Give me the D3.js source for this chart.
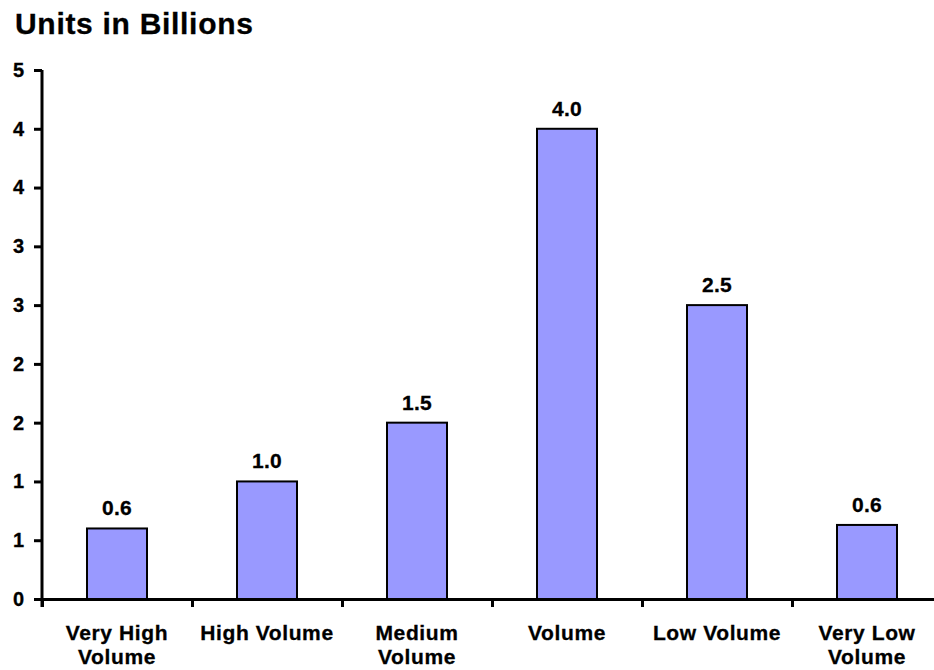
<!DOCTYPE html>
<html>
<head>
<meta charset="utf-8">
<script src="https://cdn.jsdelivr.net/npm/d3@7"></script>
<style>
  html, body { margin: 0; padding: 0; background: #fff; }
  svg { display: block; }
  text { font-family: "Liberation Sans", Arial, sans-serif; font-weight: bold; fill: #000; stroke: #000; stroke-width: 0.3px; }
</style>
</head>
<body>
<svg id="chart" width="934" height="670"></svg>
<script>
const categories = [["Very High", "Volume"], ["High Volume"], ["Medium", "Volume"], ["Volume"], ["Low Volume"], ["Very Low", "Volume"]];
const values = [0.6, 1.0, 1.5, 4.0, 2.5, 0.63];
const valueLabels = ["0.6", "1.0", "1.5", "4.0", "2.5", "0.6"];
const yTickValues = [0, 0.5, 1, 1.5, 2, 2.5, 3, 3.5, 4, 4.5];
const yTickLabels = ["0", "1", "1", "2", "2", "3", "3", "4", "4", "5"];
const title = "Units in Billions";

(function () {
const svg = d3.select("#chart");
const mLeft = 42, mRight = 942, mTop = 70, mBottom = 599;

const x = d3.scaleBand().domain(d3.range(categories.length)).range([mLeft, mRight]).paddingInner(0).paddingOuter(0);
const y = d3.scaleLinear().domain([0, 4.5]).range([mBottom, mTop]);
const barW = x.bandwidth() * 0.4;

svg.append("text").attr("x", 15).attr("y", 34).attr("font-size", 30)
  .attr("letter-spacing", 0.7).text(title);

// bars
svg.append("g").selectAll("rect").data(values).join("rect")
  .attr("x", (d, i) => x(i) + (x.bandwidth() - barW) / 2)
  .attr("y", d => y(d))
  .attr("width", barW)
  .attr("height", d => y(0) - y(d))
  .attr("fill", "#9999FF")
  .attr("stroke", "#000")
  .attr("stroke-width", 2);

// value labels
svg.append("g").selectAll("text").data(values).join("text")
  .attr("x", (d, i) => x(i) + x.bandwidth() / 2)
  .attr("y", d => y(d) - 13)
  .attr("text-anchor", "middle")
  .attr("font-size", 21)
  .attr("letter-spacing", 0.3)
  .text((d, i) => valueLabels[i]);

// y axis
const yAxis = d3.axisLeft(y).tickValues(yTickValues).tickFormat((d, i) => yTickLabels[i]).tickSize(8).tickPadding(10);
const gy = svg.append("g").attr("transform", `translate(${mLeft},0)`).call(yAxis);
gy.select(".domain").attr("stroke", "#000").attr("stroke-width", 3).attr("d", `M0,${mTop}V${mBottom + 8}`);
gy.selectAll(".tick line").attr("stroke", "#000").attr("stroke-width", 3);
gy.selectAll(".tick text").attr("font-size", 20).attr("font-family", "Liberation Sans, Arial, sans-serif")
  .attr("font-weight", "bold").attr("fill", "#000");

// x axis
const boundaries = d3.range(categories.length).map(i => x(i));
const xAxisScale = d3.scaleLinear().domain([mLeft, mRight]).range([mLeft, mRight]);
const xAxis = d3.axisBottom(xAxisScale).tickValues(boundaries).tickFormat("").tickSize(8).tickSizeOuter(0);
const gx = svg.append("g").attr("transform", `translate(0,${mBottom})`).call(xAxis);
gx.select(".domain").attr("stroke", "#000").attr("stroke-width", 3);
gx.selectAll(".tick line").attr("stroke", "#000").attr("stroke-width", 3);

// category labels
const cl = svg.append("g").selectAll("text").data(categories).join("text")
  .attr("x", (d, i) => x(i) + x.bandwidth() / 2)
  .attr("y", 640)
  .attr("text-anchor", "middle")
  .attr("font-size", 21)
  .attr("letter-spacing", 0.6);
cl.selectAll("tspan").data(d => d).join("tspan")
  .attr("x", function () { return d3.select(this.parentNode).attr("x"); })
  .attr("dy", (d, i) => i === 0 ? 0 : 24)
  .text(d => d);
})();
</script>
</body>
</html>
